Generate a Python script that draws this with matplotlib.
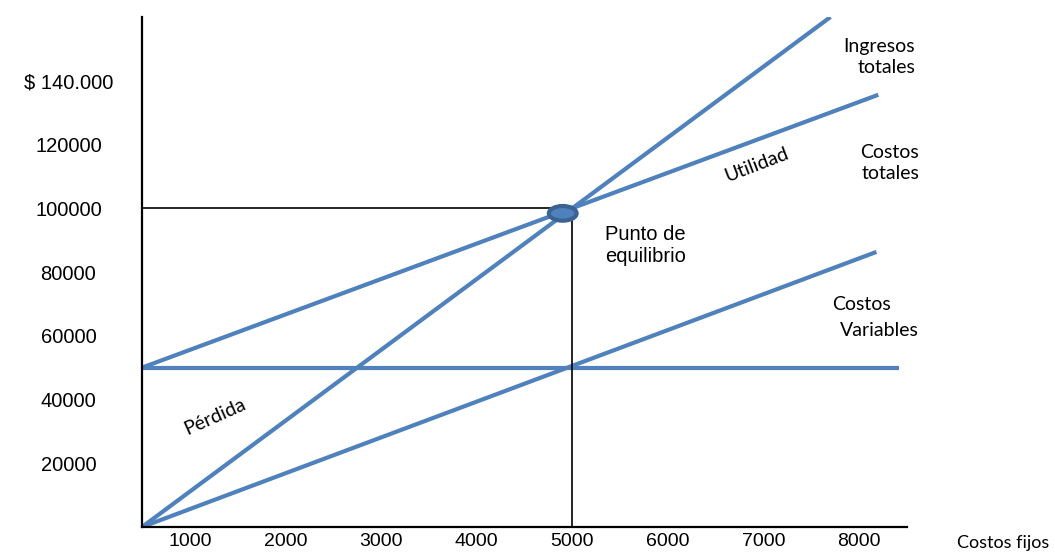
import matplotlib
matplotlib.use('Agg')
import matplotlib.pyplot as plt
from matplotlib.patches import Ellipse

# unidades vendidas vs pesos
x_ticks = [1000, 2000, 3000, 4000, 5000, 6000, 7000, 8000]
y_ticks = [20000, 40000, 60000, 80000, 100000, 120000, 140000]
y_labels = ['20000', '40000', '60000', '80000', '100000', '120000', '$ 140.000']

fijos_x = [500, 8420]
fijos_y = [50000, 50000]
variables_x = [500, 8180]
variables_y = [0, 86300]
totales_x = [500, 8200]
totales_y = [50000, 135600]
ingresos_x = [500, 7700]
ingresos_y = [0, 160000]

equilibrio_x = 5000
equilibrio_y = 100000
marca_x, marca_y = 4900, 98400

azul = '#4f81bd'

fig = plt.figure(figsize=(10.55, 5.53), dpi=100)
ax = fig.add_axes([142/1055, 26/553, 765/1055, 510/553])

ax.plot(fijos_x, fijos_y, color=azul, lw=3, solid_capstyle='butt')
ax.plot(variables_x, variables_y, color=azul, lw=3, solid_capstyle='butt')
ax.plot(totales_x, totales_y, color=azul, lw=3, solid_capstyle='butt')
ax.plot(ingresos_x, ingresos_y, color=azul, lw=3, solid_capstyle='butt', clip_on=True)

# guias del punto de equilibrio
ax.plot([500, equilibrio_x], [equilibrio_y, equilibrio_y], color='black', lw=1.2)
ax.plot([equilibrio_x, equilibrio_x], [0, equilibrio_y], color='black', lw=1.2)

ax.add_patch(Ellipse((marca_x, marca_y), 290, 4600, facecolor=azul,
                     edgecolor='#3a6394', lw=3, zorder=5))

ax.set_xlim(500, 8500)
ax.set_ylim(0, 160000)
ax.spines['top'].set_visible(False)
ax.spines['right'].set_visible(False)
ax.spines['left'].set_linewidth(1.6)
ax.spines['bottom'].set_linewidth(1.6)

ax.set_xticks(x_ticks)
ax.set_xticklabels([str(v) for v in x_ticks], fontsize=14, family='Liberation Sans')
ax.set_yticks(y_ticks)
ax.set_yticklabels(y_labels, fontsize=14.5, family='Liberation Sans')
for lab in ax.get_yticklabels():
    lab.set_horizontalalignment('center')
ax.tick_params(axis='y', length=0, pad=53)
ax.tick_params(axis='x', length=0, pad=4)

cal = 'Lato'
fig.text(1003/1055, 1 - 543/553, 'Costos fijos', fontsize=13, family=cal,
         ha='center', va='center')
fig.text(915/1055, 1 - 57/553, 'Ingresos\ntotales', fontsize=14, family=cal,
         ha='right', va='center', linespacing=1.35)
fig.text(919/1055, 1 - 163/553, 'Costos\ntotales', fontsize=14, family=cal,
         ha='right', va='center', linespacing=1.35)
fig.text(832/1055, 1 - 304/553, 'Costos', fontsize=14, family=cal,
         ha='left', va='center')
fig.text(840/1055, 1 - 331/553, 'Variables', fontsize=14, family=cal,
         ha='left', va='center')
fig.text(757/1055, 1 - 165/553, 'Utilidad', fontsize=14, family=cal,
         ha='center', va='center', rotation=21)
fig.text(215/1055, 1 - 417/553, 'Pérdida', fontsize=14, family=cal,
         ha='center', va='center', rotation=24)
fig.text(605/1055, 1 - 246/553, 'Punto de\nequilibrio', fontsize=14.5,
         family='Liberation Sans', ha='left', va='center', linespacing=1.2)

fig.savefig('out.png', dpi=100)
